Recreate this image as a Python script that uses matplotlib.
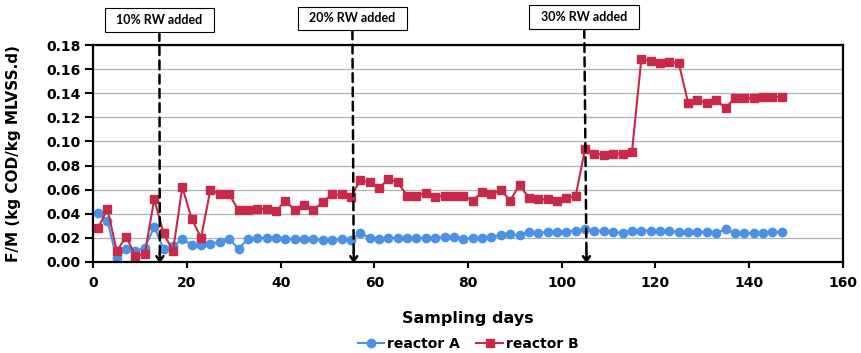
import matplotlib
matplotlib.use("Agg")
import matplotlib.pyplot as plt

# sampling days (every 2nd day)
days = [1, 3, 5, 7, 9, 11, 13, 15, 17, 19, 21, 23, 25, 27, 29, 31, 33, 35, 37, 39,
        41, 43, 45, 47, 49, 51, 53, 55, 57, 59, 61, 63, 65, 67, 69, 71, 73, 75, 77, 79,
        81, 83, 85, 87, 89, 91, 93, 95, 97, 99, 101, 103, 105, 107, 109, 111, 113, 115, 117, 119,
        121, 123, 125, 127, 129, 131, 133, 135, 137, 139, 141, 143, 145, 147]

# F/M values
reactor_a = [0.041, 0.034, 0.003, 0.011, 0.009, 0.012, 0.029, 0.011, 0.013, 0.019,
             0.014, 0.014, 0.015, 0.017, 0.019, 0.011, 0.019, 0.020, 0.020, 0.020,
             0.019, 0.019, 0.019, 0.019, 0.018, 0.018, 0.019, 0.018, 0.024, 0.020,
             0.019, 0.020, 0.020, 0.020, 0.020, 0.020, 0.020, 0.021, 0.021, 0.019,
             0.020, 0.020, 0.021, 0.022, 0.023, 0.022, 0.025, 0.024, 0.025, 0.025,
             0.025, 0.026, 0.027, 0.026, 0.026, 0.025, 0.024, 0.026, 0.026, 0.026,
             0.026, 0.026, 0.025, 0.025, 0.025, 0.025, 0.024, 0.027, 0.024, 0.024,
             0.024, 0.024, 0.025, 0.025]
reactor_b = [0.028, 0.044, 0.009, 0.021, 0.005, 0.007, 0.052, 0.024, 0.009, 0.062,
             0.036, 0.020, 0.060, 0.056, 0.056, 0.043, 0.043, 0.044, 0.044, 0.042,
             0.051, 0.043, 0.047, 0.043, 0.050, 0.056, 0.056, 0.054, 0.068, 0.066,
             0.061, 0.069, 0.066, 0.055, 0.055, 0.057, 0.054, 0.055, 0.055, 0.055,
             0.051, 0.058, 0.056, 0.060, 0.051, 0.064, 0.053, 0.052, 0.052, 0.051,
             0.053, 0.055, 0.094, 0.090, 0.089, 0.090, 0.090, 0.091, 0.168, 0.167,
             0.165, 0.166, 0.165, 0.132, 0.134, 0.132, 0.134, 0.128, 0.136, 0.136,
             0.136, 0.137, 0.137, 0.137]

# RW addition events: label, day
rw_labels = ["10% RW added", "20% RW added", "30% RW added"]
rw_days = [14.2, 55.6, 105.3]
rw_box_x = [14.1, 55.3, 104.8]   # box centre (days)
rw_box_y = [20, 18.5, 17]          # box centre (pixels from top)

BLUE = "#4B92E4"
RED = "#C8284A"
FONT = "DejaVu Sans"

fig = plt.figure(figsize=(8.61, 3.53), dpi=100)
ax = fig.add_axes([0.1084, 0.2578, 0.8703, 0.6147])

ax.plot(days, reactor_a, color=BLUE, marker="o", ms=6, lw=1.5, label="reactor A")
ax.plot(days, reactor_b, color=RED, marker="s", ms=6, lw=1.5, label="reactor B")

ax.set_xlim(0, 160)
ax.set_ylim(0, 0.18)
ax.set_xticks(range(0, 161, 20))
ax.set_yticks([i * 0.02 for i in range(10)])
ax.yaxis.set_major_formatter(matplotlib.ticker.FormatStrFormatter("%.2f"))
ax.grid(axis="y", color="#A9B4B4", lw=0.9)
ax.set_axisbelow(True)

for s in ax.spines.values():
    s.set_linewidth(1.6)
    s.set_color("black")
ax.tick_params(axis="y", direction="out", length=6, width=1.5, pad=3)
ax.tick_params(axis="x", direction="out", length=4, width=1.5, pad=6)
for lab in ax.get_xticklabels() + ax.get_yticklabels():
    lab.set_fontfamily(FONT)
    lab.set_fontweight("bold")
    lab.set_fontsize(10)

ax.set_xlabel("Sampling days", fontfamily=FONT, fontweight="bold", fontsize=11.5, labelpad=15)
ax.set_ylabel("F/M (kg COD/kg MLVSS.d)", fontfamily=FONT, fontweight="bold", fontsize=11, labelpad=18)

# RW added boxes with dashed arrows
for lab, d, bx, by in zip(rw_labels, rw_days, rw_box_x, rw_box_y):
    y_frac = 1 - by / 353
    ax.annotate("  " + lab + "  ", xy=(d, 0.003), xycoords="data",
                xytext=(bx, y_frac), textcoords=("data", "figure fraction"),
                ha="center", va="center", fontfamily="Lato", fontweight="bold", fontsize=9,
                bbox=dict(boxstyle="square,pad=0.45", fc="white", ec="black", lw=0.8),
                arrowprops=dict(arrowstyle="-", color="black", lw=1.8,
                                linestyle=(0, (3.5, 2.2)), shrinkA=0, shrinkB=0),
                annotation_clip=False, zorder=5)
    ax.annotate("", xy=(d, -0.001), xytext=(d, 0.008),
                arrowprops=dict(arrowstyle="->,head_length=0.35,head_width=0.25",
                                color="black", lw=1.8, shrinkA=0, shrinkB=0),
                annotation_clip=False, zorder=5)

leg = ax.legend(loc="center", bbox_to_anchor=(0.5, -0.378), ncol=2, frameon=False,
                handlelength=1.9, handletextpad=0.2, columnspacing=1.2,
                prop=dict(family=FONT, weight="bold", size=10))

fig.savefig("out.png", dpi=100)
